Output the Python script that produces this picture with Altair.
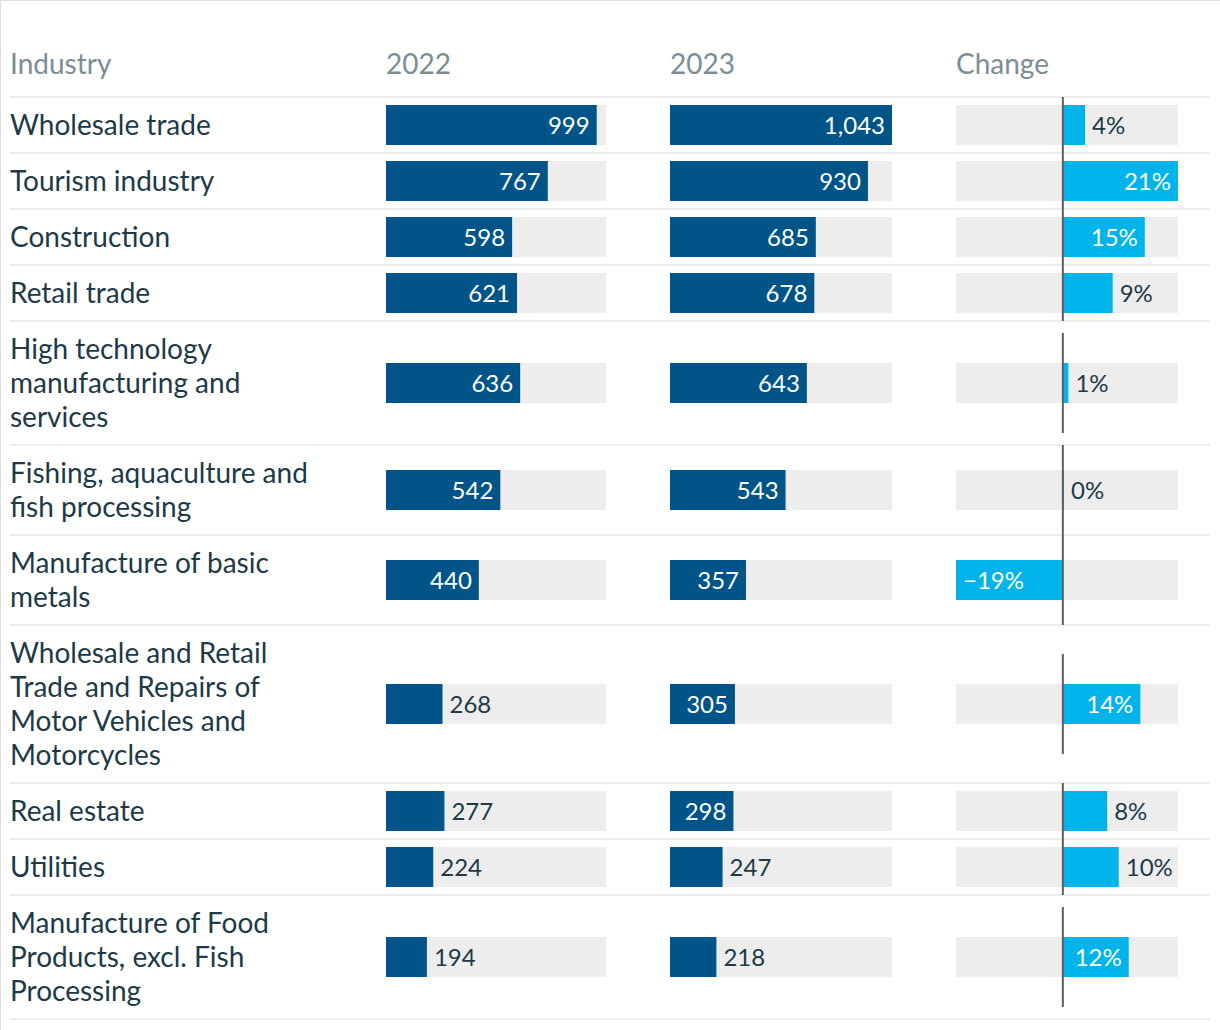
import altair as alt
import pandas as pd

# ---------------- data ----------------
industries = [
    "Wholesale trade",
    "Tourism industry",
    "Construction",
    "Retail trade",
    "High technology\nmanufacturing and\nservices",
    "Fishing, aquaculture and\nfish processing",
    "Manufacture of basic\nmetals",
    "Wholesale and Retail\nTrade and Repairs of\nMotor Vehicles and\nMotorcycles",
    "Real estate",
    "Utilities",
    "Manufacture of Food\nProducts, excl. Fish\nProcessing",
]
values_2022 = [999, 767, 598, 621, 636, 542, 440, 268, 277, 224, 194]
values_2023 = [1043, 930, 685, 678, 643, 543, 357, 305, 298, 247, 218]
change_pct = [4.0, 20.8, 14.8, 9.0, 1.0, 0.2, -19.3, 14.0, 8.0, 10.1, 11.9]
headers = ["Industry", "2022", "2023", "Change"]

# ---------------- layout / style ----------------
W, H = 1220, 1030
LEFT, RIGHT = 10, 1210
HEADER_Y = 64
TABLE_TOP = 97
LINE_H = 34
ROW_PAD = 22
BAR_H = 40
ZERO_LINE_MAX = 100
COL_2022 = [386, 606]
COL_2023 = [670, 892]
COL_CHG = [956, 1178]
INSIDE_FRAC = 0.275
LABEL_PAD = 7
TEXT_DY = 2

FONT = "Lato"
DARK = "#1d3a47"
GREY_TXT = "#7b8d94"
NAVY = "#005487"
CYAN = "#00b4eb"
TRACK = "#ededed"
SEP = "#ececec"
ZERO = "#5f5f5f"
NAME_SIZE = 28
HEAD_SIZE = 28
VAL_SIZE = 24

# ---------------- table build ----------------
n_lines = [s.count("\n") + 1 for s in industries]
tops, bottoms = [], []
cur = TABLE_TOP
for n in n_lines:
    tops.append(cur)
    cur += ROW_PAD + LINE_H * n
    bottoms.append(cur)

vmax = max(max(values_2022), max(values_2023))
cmin, cmax = min(change_pct), max(change_pct)


def pct_label(c):
    return f"{round(c):d}%".replace("-", "\u2212")


rows = []
for i, name in enumerate(industries):
    yc = (tops[i] + bottoms[i]) / 2
    half = min((bottoms[i] - tops[i]) / 2, ZERO_LINE_MAX / 2)
    c = change_pct[i]
    rows.append(dict(
        name=name, yc=yc, ny=yc - (n_lines[i] - 1) * LINE_H / 2,
        bt=yc - BAR_H / 2, bb=yc + BAR_H / 2,
        zt=yc - half, zb=yc + half,
        zero=0, vmax=vmax, cmin=cmin, cmax=cmax,
        v22=values_2022[i], v23=values_2023[i], chg=c,
        l22=f"{values_2022[i]:,}", l23=f"{values_2023[i]:,}", lc=pct_label(c),
        in22=values_2022[i] / vmax > INSIDE_FRAC,
        in23=values_2023[i] / vmax > INSIDE_FRAC,
        inc=abs(c) / (cmax - cmin) > INSIDE_FRAC,
        pos=c >= 0,
    ))
df = pd.DataFrame(rows)
sep_df = pd.DataFrame({"sy": [TABLE_TOP] + bottoms})

Y = alt.Scale(domain=[0, H], range=[0, H])
base = alt.Chart(df)


def yenc(f):
    return alt.Y(f"{f}:Q", scale=Y, axis=None)


layers = []

# separators
layers.append(
    alt.Chart(sep_df).mark_rule(color=SEP, strokeWidth=2).encode(
        x=alt.value(LEFT), x2=alt.value(RIGHT), y=yenc("sy")
    )
)

# headers
header_x = [LEFT, COL_2022[0], COL_2023[0], COL_CHG[0]]
for h, hx in zip(headers, header_x):
    layers.append(
        alt.Chart(pd.DataFrame({"t": [h], "hy": [HEADER_Y]})).mark_text(
            align="left", baseline="middle", dy=TEXT_DY, font=FONT, fontSize=HEAD_SIZE, color=GREY_TXT
        ).encode(x=alt.value(hx), y=yenc("hy"), text="t:N")
    )

# industry names
layers.append(
    base.mark_text(
        align="left", baseline="middle", dy=TEXT_DY, font=FONT, fontSize=NAME_SIZE, color=DARK,
        lineBreak="\n", lineHeight=LINE_H,
    ).encode(x=alt.value(LEFT), y=yenc("ny"), text="name:N")
)


def value_column(field, label, inside, rng):
    xs = alt.Scale(domain=[0, vmax], range=rng)

    def X(f):
        return alt.X(f"{f}:Q", scale=xs, axis=None)

    return [
        base.mark_rect(color=TRACK).encode(x=X("zero"), x2=alt.X2("vmax:Q"), y=yenc("bt"), y2=alt.Y2("bb:Q")),
        base.mark_rect(color=NAVY).encode(x=X("zero"), x2=alt.X2(f"{field}:Q"), y=yenc("bt"), y2=alt.Y2("bb:Q")),
        base.transform_filter(f"datum.{inside}").mark_text(
            align="right", baseline="middle", dx=-LABEL_PAD, dy=TEXT_DY, font=FONT, fontSize=VAL_SIZE, color="white"
        ).encode(x=X(field), y=yenc("yc"), text=f"{label}:N"),
        base.transform_filter(f"!datum.{inside}").mark_text(
            align="left", baseline="middle", dx=LABEL_PAD, dy=TEXT_DY, font=FONT, fontSize=VAL_SIZE, color=DARK
        ).encode(x=X(field), y=yenc("yc"), text=f"{label}:N"),
    ]


layers += value_column("v22", "l22", "in22", COL_2022)
layers += value_column("v23", "l23", "in23", COL_2023)

# change column
cs = alt.Scale(domain=[cmin, cmax], range=COL_CHG)


def CX(f):
    return alt.X(f"{f}:Q", scale=cs, axis=None)


layers += [
    base.mark_rect(color=TRACK).encode(x=CX("cmin"), x2=alt.X2("cmax:Q"), y=yenc("bt"), y2=alt.Y2("bb:Q")),
    base.mark_rect(color=CYAN).encode(x=CX("zero"), x2=alt.X2("chg:Q"), y=yenc("bt"), y2=alt.Y2("bb:Q")),
    base.mark_rule(color=ZERO, strokeWidth=2).encode(x=CX("zero"), y=yenc("zt"), y2=alt.Y2("zb:Q")),
    # inside, positive
    base.transform_filter("datum.inc && datum.pos").mark_text(
        align="right", baseline="middle", dx=-LABEL_PAD, dy=TEXT_DY, font=FONT, fontSize=VAL_SIZE, color="white"
    ).encode(x=CX("chg"), y=yenc("yc"), text="lc:N"),
    # inside, negative
    base.transform_filter("datum.inc && !datum.pos").mark_text(
        align="left", baseline="middle", dx=LABEL_PAD, dy=TEXT_DY, font=FONT, fontSize=VAL_SIZE, color="white"
    ).encode(x=CX("chg"), y=yenc("yc"), text="lc:N"),
    # outside, positive
    base.transform_filter("!datum.inc && datum.pos").mark_text(
        align="left", baseline="middle", dx=LABEL_PAD, dy=TEXT_DY, font=FONT, fontSize=VAL_SIZE, color=DARK
    ).encode(x=CX("chg"), y=yenc("yc"), text="lc:N"),
    # outside, negative
    base.transform_filter("!datum.inc && !datum.pos").mark_text(
        align="right", baseline="middle", dx=-LABEL_PAD, dy=TEXT_DY, font=FONT, fontSize=VAL_SIZE, color=DARK
    ).encode(x=CX("chg"), y=yenc("yc"), text="lc:N"),
]

chart = (
    alt.layer(*layers)
    .resolve_scale(x="independent")
    .properties(width=W, height=H, autosize=alt.AutoSizeParams(type="none"), padding=0)
    .configure_view(stroke=None)
    .configure(background="white")
)

chart.save("out.html", embed_options={"renderer": "svg", "actions": False})
